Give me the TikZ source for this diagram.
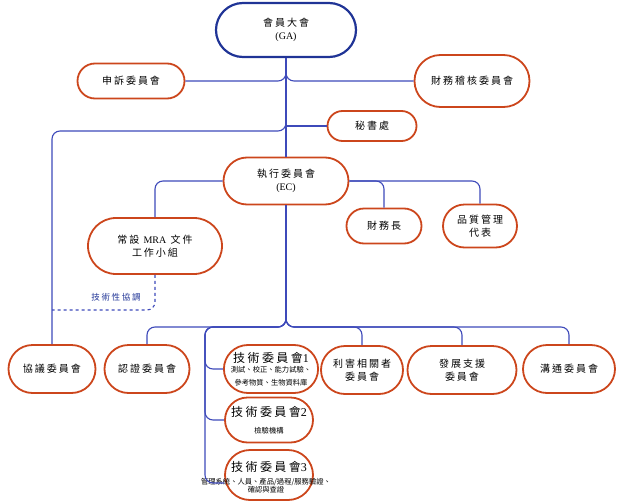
\documentclass[tikz,border=0pt]{standalone}
\usepackage{fontspec}
\setmainfont{Liberation Serif}
\newfontfamily\cjk[LetterSpace=20]{Noto Sans CJK TC}
\newfontfamily\cjknote{Noto Sans CJK TC}
\newcommand\notesize{\cjknote\fontsize{7.3}{8.3}\selectfont}
\newcommand\tcsize{\fontsize{12}{13}\selectfont}
\usepackage{tikz}
\usetikzlibrary{shapes.misc}
\definecolor{boxred}{RGB}{204,70,28}
\definecolor{gablue}{RGB}{32,52,150}
\definecolor{linkblue}{RGB}{62,74,186}

\begin{document}
\begin{tikzpicture}[x=1pt, y=-1pt,
    box/.style={rounded rectangle, draw=boxred, line width=1.8pt, inner sep=0pt,
        align=center, font=\cjk\fontsize{10}{13}\selectfont},
    note/.style={font=\notesize},
    link/.style={draw=linkblue, line width=1.1pt, rounded corners=8pt}]
    \useasboundingbox (0,0) rectangle (622,501);

    % General assembly
    \node[box, draw=gablue, line width=2.2pt, minimum width=140pt, minimum height=54pt] (ga) at (286,30) {會員大會\\{\rmfamily (GA)}};

    % Committees beside the trunk
    \node[box, minimum width=107pt, minimum height=35pt] (appeal) at (131,81) {申訴委員會};
    \node[box, minimum width=115pt, minimum height=52pt] (audit) at (472,81) {財務稽核委員會};
    \node[box, minimum width=89pt, minimum height=30pt] (sec) at (372,126) {秘書處};

    % Executive committee and its branches
    \node[box, minimum width=125pt, minimum height=47pt] (ec) at (286,181) {執行委員會\\{\rmfamily (EC)}};
    \node[box, minimum width=134pt, minimum height=56pt] (mra) at (155,246) {常設 {\rmfamily MRA} 文件\\工作小組};
    \node[box, minimum width=75pt, minimum height=35pt] (cfo) at (384,226) {財務長};
    \node[box, minimum width=74pt, minimum height=43pt] (qm) at (480,226) {品質管理\\代表};

    % Bottom row
    \node[box, minimum width=87pt, minimum height=48pt] (agree) at (52,369) {協議委員會};
    \node[box, minimum width=85pt, minimum height=48pt] (cert) at (147,369) {認證委員會};
    \node[box, minimum width=93pt, minimum height=48pt] (tc1) at (271,369)
        {\tcsize 技術委員會{\rmfamily 1}\\[-3pt]\notesize 測試、校正、能力試驗、\\\notesize 參考物質、生物資料庫};
    \node[box, minimum width=82pt, minimum height=48pt] (stake) at (362,370) {利害相關者\\委員會};
    \node[box, minimum width=109pt, minimum height=48pt] (dev) at (462,370) {發展支援\\委員會};
    \node[box, minimum width=92pt, minimum height=48pt] (comm) at (569,369) {溝通委員會};

    % Technical committees 2 and 3
    \node[box, minimum width=88pt, minimum height=45pt] (tc2) at (269,420)
        {\tcsize 技術委員會{\rmfamily 2}\\[4pt]\notesize 檢驗機構};
    \node[box, minimum width=88pt, minimum height=50pt] (tc3) at (269,475) {};
    \node[font=\cjk\tcsize] (tc3title) at (269,467) {技術委員會{\rmfamily 3}};
    \node[note, align=center] (tc3note) at (266,486) {管理系統、人員、產品/過程/服務驗證、\\確認與查證};

    % Trunk and branches from the assembly
    \coordinate (fork) at (286,70);
    \coordinate (left) at (286,118);
    \coordinate (bus) at (286,318);
    \coordinate (tcbus) at (205,327);
    \coordinate (meet) at (52,310);
    \draw[link] (ga.south) -- (ec.north);
    \draw[link] (fork) |- (appeal.east);
    \draw[link] (fork) |- (audit.west);
    \draw[link] (ga.south |- sec.west) -- (sec.west);
    \draw[link] (left) |- (150,131) -| (agree.north);

    % Executive committee branches
    \draw[link] (ec.west) -| (mra.north);
    \draw[link] (ec.east) -| (cfo.north);
    \draw[link] (ec.east) -| (qm.north);

    % Bus to the bottom row
    \draw[link] (ec.south) -- (bus);
    \draw[link] (bus) |- (cert.north |- tcbus) -- (cert.north);
    \draw[link] (bus) |- (stake.north |- tcbus) -- (stake.north);
    \draw[link] (bus) |- (dev.north |- tcbus) -- (dev.north);
    \draw[link] (bus) |- (comm.north |- tcbus) -- (comm.north);
    \draw[link] (bus) |- (tcbus) |- (tc1.west);
    \draw[link] (bus) |- (tcbus) |- (tc2.west);
    \draw[link] (bus) |- (tcbus) |- ([yshift=-8pt]tc3.west);

    % Technical coordination
    \draw[link, dashed] (mra.south) |- (meet);
    \node[font=\cjk\fontsize{8.5}{10}\selectfont, text=gablue] (coordlabel) at (116,297) {技術性協調};
\end{tikzpicture}
\end{document}
